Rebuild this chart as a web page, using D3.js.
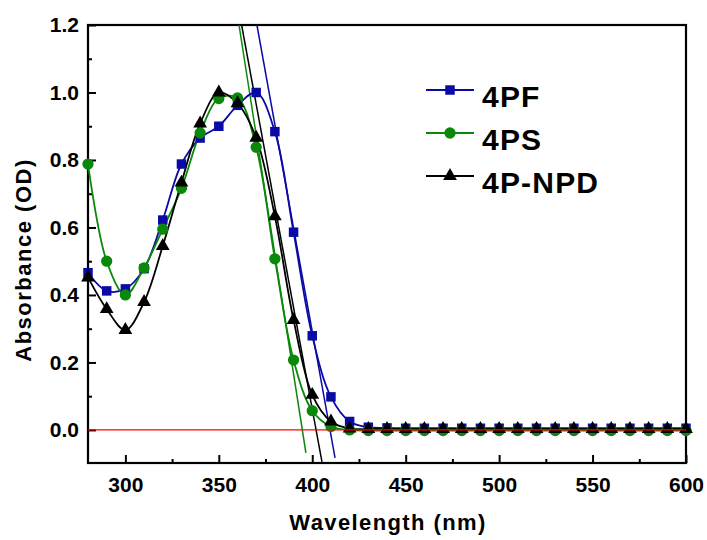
<!DOCTYPE html>
<html>
<head>
<meta charset="utf-8">
<script src="https://cdn.jsdelivr.net/npm/d3@7"></script>
<style>
  body { margin: 0; background: #fff; }
  text { font-family: "Liberation Sans", Arial, sans-serif; font-weight: bold; fill: #000; }
</style>
</head>
<body>
<svg id="chart" width="707" height="540"></svg>
<script>
// データ (吸収スペクトル, 10nm 間隔)
var wavelength = [280, 290, 300, 310, 320, 330, 340, 350, 360, 370, 380, 390, 400, 410, 420, 430,
  440, 450, 460, 470, 480, 490, 500, 510, 520, 530, 540, 550, 560, 570, 580, 590, 600];
var abs4PF = [0.466, 0.412, 0.418, 0.478, 0.622, 0.788, 0.865, 0.900, 0.962, 1.000, 0.884, 0.586, 0.279, 0.098, 0.025, 0.008,
  0.006, 0.005, 0.005, 0.005, 0.005, 0.005, 0.005, 0.005, 0.005, 0.005, 0.005, 0.005, 0.005, 0.005, 0.005, 0.005, 0.005];
var abs4PS = [0.788, 0.500, 0.400, 0.480, 0.595, 0.716, 0.880, 0.982, 0.984, 0.838, 0.507, 0.207, 0.057, 0.010, 0.000, -0.002,
  -0.002, -0.002, -0.002, -0.002, -0.002, -0.002, -0.002, -0.002, -0.002, -0.002, -0.002, -0.002, -0.002, -0.002, -0.002, -0.002, -0.002];
var abs4PNPD = [0.452, 0.358, 0.296, 0.379, 0.545, 0.733, 0.908, 1.000, 0.968, 0.866, 0.633, 0.326, 0.104, 0.025, 0.004, 0.003,
  0.003, 0.003, 0.003, 0.003, 0.003, 0.003, 0.003, 0.003, 0.003, 0.003, 0.003, 0.003, 0.003, 0.003, 0.003, 0.003, 0.003];

// 吸収端の接線 (始点・終点)
var tangent4PF = [[370.4, 1.2], [412.2, -0.083]];
var tangent4PS = [[360.8, 1.2], [396.6, -0.068]];
var tangent4PNPD = [[362.2, 1.2], [405.2, -0.095]];

var seriesNames = ["4PF", "4PS", "4P-NPD"];
var xTicks = [300, 350, 400, 450, 500, 550, 600];
var xMinorTicks = [325, 375, 425, 475, 525, 575];
var yTicks = [0.0, 0.2, 0.4, 0.6, 0.8, 1.0, 1.2];
var yMinorTicks = [0.1, 0.3, 0.5, 0.7, 0.9, 1.1];

(() => {
  var svg = d3.select("#chart");
  var x = d3.scaleLinear().domain([280, 600]).range([88, 686]);
  var y = d3.scaleLinear().domain([-0.098, 1.2]).range([463, 25]);

  var series = [
    { name: seriesNames[0], values: abs4PF, tangent: tangent4PF, color: "#0a0aa6", symbol: d3.symbolSquare, size: 90 },
    { name: seriesNames[1], values: abs4PS, tangent: tangent4PS, color: "#0a880a", symbol: d3.symbolCircle, size: 100 },
    { name: seriesNames[2], values: abs4PNPD, tangent: tangent4PNPD, color: "#000000", symbol: d3.symbolTriangle, size: 82 },
  ];

  svg.append("clipPath")
    .attr("id", "plotClip")
    .append("rect")
    .attr("x", x(280))
    .attr("y", y(1.2))
    .attr("width", x(600) - x(280))
    .attr("height", y(-0.098) - y(1.2));

  // 軸
  svg.append("g")
    .attr("transform", `translate(0,${y(-0.098)})`)
    .call(d3.axisBottom(x).tickValues(xTicks).tickSizeInner(-8).tickSizeOuter(0).tickPadding(14).tickFormat(d3.format("d")));
  svg.append("g")
    .attr("transform", `translate(0,${y(-0.098)})`)
    .call(d3.axisBottom(x).tickValues(xMinorTicks).tickSizeInner(-4).tickSizeOuter(0).tickFormat(""));
  svg.append("g")
    .attr("transform", `translate(${x(280)},0)`)
    .call(d3.axisLeft(y).tickValues(yTicks).tickSizeInner(-8).tickSizeOuter(0).tickPadding(9).tickFormat(d3.format(".1f")));
  svg.append("g")
    .attr("transform", `translate(${x(280)},0)`)
    .call(d3.axisLeft(y).tickValues(yMinorTicks).tickSizeInner(-4).tickSizeOuter(0).tickFormat(""));
  svg.selectAll(".domain").remove();
  svg.selectAll(".tick line").attr("stroke", "#000").attr("stroke-width", 2);
  svg.selectAll(".tick text").style("font-size", "21px").style("font-family", "'Liberation Sans', Arial, sans-serif").style("font-weight", "bold");

  // 枠
  svg.append("rect")
    .attr("x", x(280))
    .attr("y", y(1.2))
    .attr("width", x(600) - x(280))
    .attr("height", y(-0.098) - y(1.2))
    .attr("fill", "none")
    .attr("stroke", "#000")
    .attr("stroke-width", 2.2);

  // 軸タイトル
  svg.append("text")
    .attr("x", 388)
    .attr("y", 530)
    .attr("text-anchor", "middle")
    .style("font-size", "22px")
    .style("letter-spacing", "1.4px")
    .text("Wavelength (nm)");
  svg.append("text")
    .attr("transform", "translate(31,260) rotate(-90)")
    .attr("text-anchor", "middle")
    .style("font-size", "22px")
    .style("letter-spacing", "1.5px")
    .text("Absorbance (OD)");

  // 接線
  var plot = svg.append("g").attr("clip-path", "url(#plotClip)");
  plot.selectAll(".tangent")
    .data(series)
    .enter()
    .append("line")
    .attr("class", "tangent")
    .attr("x1", (d) => x(d.tangent[0][0]))
    .attr("y1", (d) => y(d.tangent[0][1]))
    .attr("x2", (d) => x(d.tangent[1][0]))
    .attr("y2", (d) => y(d.tangent[1][1]))
    .attr("stroke", (d) => d.color)
    .attr("stroke-width", 1.5);

  // スペクトル曲線とマーカー
  var line = d3.line()
    .x((d) => x(d[0]))
    .y((d) => y(d[1]))
    .curve(d3.curveCatmullRom.alpha(0.5));
  series.forEach((s) => {
    var pts = wavelength.map((w, i) => [w, s.values[i]]);
    plot.append("path")
      .datum(pts)
      .attr("d", line)
      .attr("fill", "none")
      .attr("stroke", s.color)
      .attr("stroke-width", 1.8);
    svg.append("g")
      .selectAll("path")
      .data(pts)
      .enter()
      .append("path")
      .attr("transform", (d) => `translate(${x(d[0])},${y(d[1])})`)
      .attr("d", d3.symbol().type(s.symbol).size(s.size))
      .attr("fill", s.color);
  });

  // y=0 の基準線
  svg.append("line")
    .attr("x1", x(280))
    .attr("x2", x(600))
    .attr("y1", y(0))
    .attr("y2", y(0))
    .attr("stroke", "#ff0000")
    .attr("stroke-width", 1.2);

  // 凡例
  var legendY = [90, 133, 176];
  var legend = svg.selectAll(".legend")
    .data(series)
    .enter()
    .append("g")
    .attr("class", "legend")
    .attr("transform", (d, i) => `translate(0,${legendY[i]})`);
  legend.append("line")
    .attr("x1", 426)
    .attr("x2", 474)
    .attr("stroke", (d) => d.color)
    .attr("stroke-width", 2);
  legend.append("path")
    .attr("transform", "translate(450,0)")
    .attr("d", (d) => d3.symbol().type(d.symbol).size(d.size)())
    .attr("fill", (d) => d.color);
  legend.append("text")
    .attr("x", 482)
    .attr("y", 6)
    .attr("dy", "0.35em")
    .style("font-size", "30px")
    .style("letter-spacing", "1.2px")
    .text((d) => d.name);
})();
</script>
</body>
</html>
